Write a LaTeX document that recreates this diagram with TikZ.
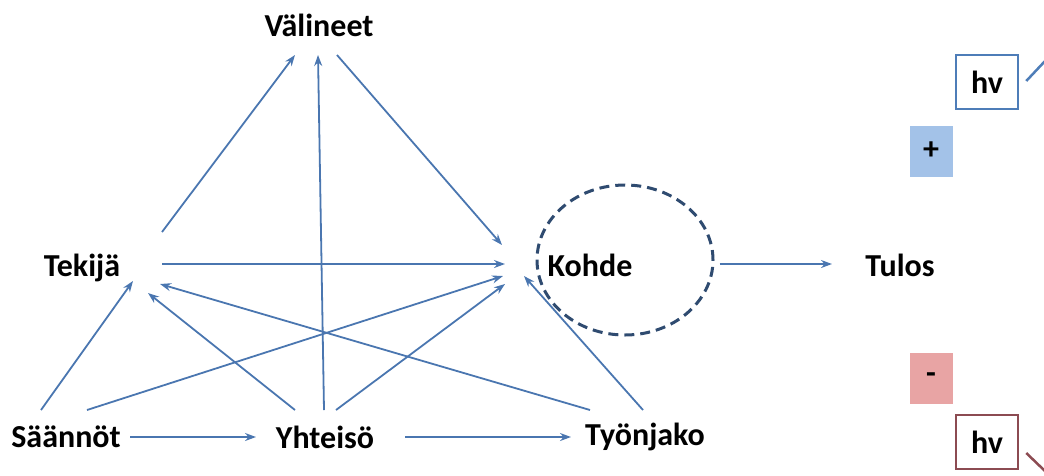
\documentclass[tikz,border=0pt]{standalone}
\usepackage{fontspec}
\setmainfont{Carlito}
\usetikzlibrary{arrows.meta}
\usetikzlibrary{shapes.geometric}
\usepackage{xcolor}
\definecolor{nuolisini}{HTML}{4A76B0}
\definecolor{tummasini}{HTML}{2F4B70}
\definecolor{reunasini}{HTML}{4E7DB8}
\definecolor{vaaleasini}{HTML}{A3C2E8}
\definecolor{vaalearusko}{HTML}{E8A4A4}
\definecolor{reunapuna}{HTML}{8C4B52}

\begin{document}
\begin{tikzpicture}[x=1pt,y=-1pt,
  teksti/.style={font=\bfseries\fontsize{32}{38}\selectfont, inner sep=0pt},
  nuoli/.style={-{Stealth[length=11pt,width=8pt]}, line width=1.8pt, nuolisini},
  merkki/.style={font=\bfseries\fontsize{32}{38}\selectfont, minimum width=43pt, minimum height=51pt, inner sep=0pt},
  hvlaatikko/.style={draw, line width=2.5pt, font=\bfseries\fontsize{32}{38}\selectfont, minimum width=62pt, minimum height=54pt, inner sep=0pt}
  ]
\useasboundingbox (0,0) rectangle (1044,475);

%\draw[gray,very thin, step=50, opacity=0.5] (0,0) grid (1044,475);

% tekstit
\node[teksti] (valineet) at (319,25) {Välineet};
\node[teksti] (tekija) at (82,268) {Tekijä};
\node[teksti] (kohde) at (590,265) {Kohde};
\node[teksti] (tulos) at (900,265) {Tulos};
\node[teksti] (saannot) at (66,437) {Säännöt};
\node[teksti] (yhteiso) at (325,437) {Yhteisö};
\node[teksti] (tyonjako) at (645,437) {Työnjako};

% kohteen rengas
\node[ellipse, draw=tummasini, dashed, dash pattern=on 10pt off 6pt, line width=3pt, minimum width=176pt, minimum height=150pt] (kohdealue) at (625,260) {};

% ylös ja oikealle
\draw[nuoli] ([shift={(80,-36)}]tekija.center) -- ([shift={(-24,30)}]valineet.center);
\draw[nuoli] ([shift={(-1,-27)}]yhteiso.center) -- ([shift={(-1,30)}]valineet.center);
\draw[nuoli] ([shift={(18,30)}]valineet.center) -- ([shift={(-88,-20)}]kohde.center);
\draw[nuoli] ([shift={(80,-4)}]tekija.center) -- ([shift={(-85,-1)}]kohde.center);

% alhaalta
\draw[nuoli] ([shift={(-25,-27)}]saannot.center) -- ([shift={(51,13)}]tekija.center);
\draw[nuoli] ([shift={(21,-27)}]saannot.center) -- ([shift={(-87,11)}]kohde.center);
\draw[nuoli] ([shift={(-30,-27)}]yhteiso.center) -- ([shift={(66,25)}]tekija.center);
\draw[nuoli] ([shift={(11,-27)}]yhteiso.center) -- ([shift={(-85,19)}]kohde.center);
\draw[nuoli] ([shift={(-55,-27)}]tyonjako.center) -- ([shift={(78,16)}]tekija.center);
\draw[nuoli] ([shift={(-2,-27)}]tyonjako.center) -- ([shift={(-66,11)}]kohde.center);

% alarivi
\draw[nuoli] ([shift={(64,0)}]saannot.center) -- ([shift={(-69,0)}]yhteiso.center);
\draw[nuoli] ([shift={(80,0)}]yhteiso.center) -- ([shift={(-74,0)}]tyonjako.center);

% tulos
\draw[nuoli, line width=2.6pt] ([shift={(5,4)}]kohdealue.east) -- ([shift={(-68,-1)}]tulos.center);

% oikea reuna
\node[merkki, fill=vaaleasini] (plus) at (931,151) {+};
\node[merkki, fill=vaalearusko] (miinus) at (931,378) {-};
\node[hvlaatikko, draw=reunasini] (hvyla) at (987,82) {hv};
\node[hvlaatikko, draw=reunapuna] (hvala) at (987,442) {hv};

\coordinate (ylareuna) at (1046,60);
\coordinate (alareuna) at (1046,472);
\draw[reunasini, line width=2.5pt] ([shift={(7,-1)}]hvyla.east) -- (ylareuna);
\draw[reunapuna, line width=2.5pt] ([shift={(7,11)}]hvala.east) -- (alareuna);

\end{tikzpicture}
\end{document}
